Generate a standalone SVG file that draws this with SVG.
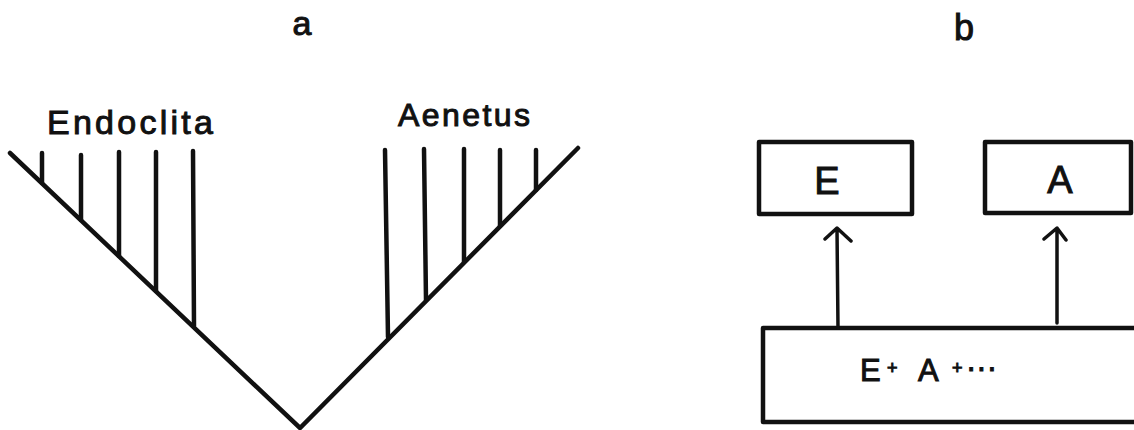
<svg xmlns="http://www.w3.org/2000/svg" width="1134" height="430" viewBox="0 0 1134 430">
<style>
.ln{stroke:#111;stroke-width:4.5;stroke-linecap:round;fill:none}
.bx{stroke:#111;stroke-width:4.5;fill:none;stroke-linejoin:round}
.ar{stroke:#111;stroke-width:3.5;fill:none;stroke-linecap:round;stroke-linejoin:round}
.t{font-family:"Liberation Sans",Arial,sans-serif;fill:#111;stroke:#111;stroke-width:1}
</style>
<rect width="1134" height="430" fill="#fff"/>
<g id="label-a"><text class="t" x="302" y="35" font-size="34" text-anchor="middle">a</text></g>
<g id="label-b"><text class="t" x="964" y="40" font-size="36" text-anchor="middle">b</text></g>
<g id="tree">
<path class="ln" d="M10,153 L300,428 L578,148"/>
</g>
<g id="endoclita">
<text class="t" x="47" y="134" font-size="34" textLength="166" lengthAdjust="spacing">Endoclita</text>
<path class="ln" d="M42,153 L42,183 M81,155 L81,220 M119,152 L119,256 M156,152 L156,291 M193,151 L194,326"/>
</g>
<g id="aenetus">
<text class="t" x="398" y="126" font-size="32" textLength="132" lengthAdjust="spacing">Aenetus</text>
<path class="ln" d="M385,150 L388,337 M424,149 L426,300 M464,149 L464,262 M500,150 L500,226 M536,150 L536,190"/>
</g>
<g id="node-E">
<rect class="bx" x="759" y="142" width="153" height="72"/>
<text class="t" x="827" y="194" font-size="38" text-anchor="middle">E</text>
</g>
<g id="node-A">
<rect class="bx" x="985" y="142" width="146" height="71"/>
<text class="t" x="1060" y="193" font-size="38" text-anchor="middle">A</text>
</g>
<g id="node-EA">
<rect class="bx" x="763" y="328" width="400" height="94"/>
<text class="t" font-size="31"><tspan x="860" y="381">E</tspan><tspan x="887" y="374" font-size="18">+</tspan><tspan x="918" y="381">A</tspan><tspan x="952" y="374" font-size="18">+</tspan><tspan x="966" y="378">···</tspan></text>
</g>
<g id="connectors">
<path class="ar" d="M838,328 L837,229 M825,239 L837,228 L851,241"/>
<path class="ar" d="M1057,323 L1057,229 M1044,239 L1057,228 L1066,240"/>
</g>
</svg>
